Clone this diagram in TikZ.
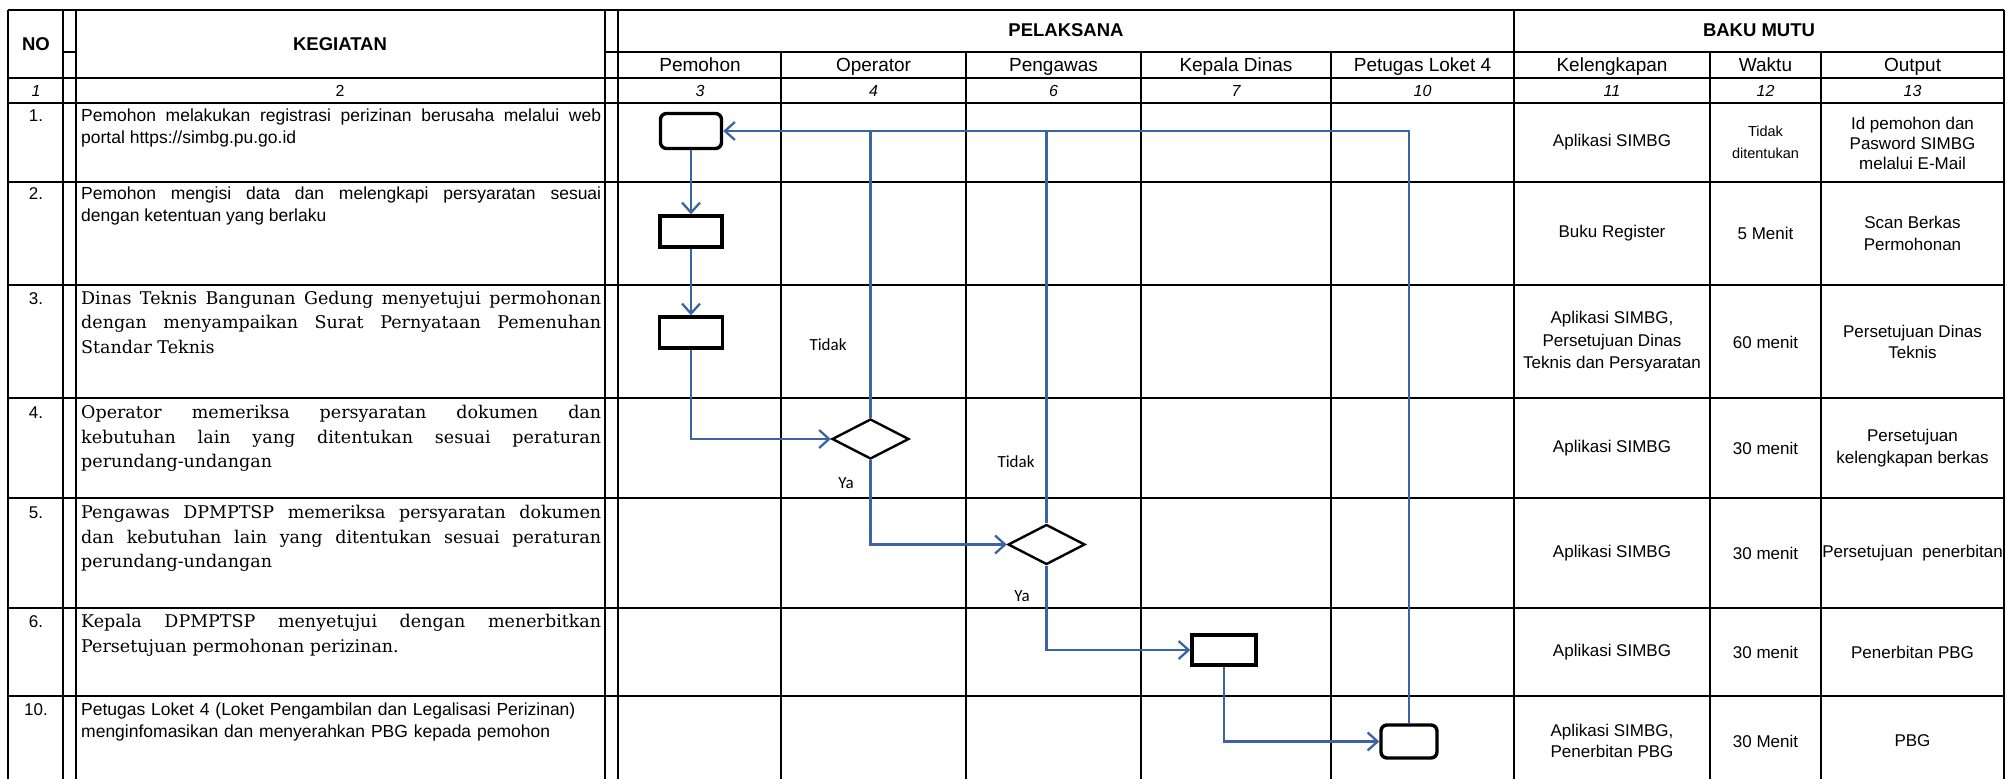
\documentclass[tikz,border=0pt]{standalone}
\usepackage{fontspec}
\setmainfont{Liberation Sans}
\newfontfamily\rowserif{DejaVu Serif}
\newfontfamily\flowlabel{Carlito}
\usetikzlibrary{arrows.meta,shapes.geometric}
\definecolor{flowblue}{RGB}{60,100,165}

\begin{document}
\begin{tikzpicture}[x=1pt,y=-1pt,
  grid/.style={line width=2.8pt},
  hdr/.style={font=\bfseries\fontsize{18.5}{22}\selectfont, anchor=base},
  colhead/.style={font=\fontsize{19}{22}\selectfont, anchor=base},
  idx/.style={font=\itshape\fontsize{16}{18}\selectfont, anchor=base},
  rowno/.style={font=\fontsize{17}{18}\selectfont, anchor=base},
  actext/.style={anchor=north west, inner sep=0pt, text width=520pt, align=justify},
  mutu/.style={align=center, inner sep=0pt, font=\fontsize{17}{21.5}\selectfont},
  actbox/.style={draw, line width=3.4pt, minimum width=62pt, minimum height=31pt, inner sep=0pt},
  endbox/.style={actbox, rounded corners=6pt},
  decide/.style={draw, diamond, line width=2.4pt, minimum width=77pt, minimum height=40pt, inner sep=0pt},
  flow/.style={draw=flowblue, line width=2.3pt, -{Straight Barb[length=10pt,width=18pt]}},
  flowline/.style={draw=flowblue, line width=2.3pt},
  lbl/.style={font=\flowlabel\fontsize{17}{18}\selectfont}]
\fill[white] (0,0) rectangle (2006,779);
\useasboundingbox (0,0) rectangle (2006,779);

% table grid
\draw[grid] (8,10) -- (2004,10);
\draw[grid] (605,52) -- (2004,52);
\draw[grid] (63,52) -- (76,52);
\foreach \y in {78,103,182,285,398,498,608,696}
  \draw[grid] (8,\y) -- (2004,\y);
\foreach \x in {8,63,76,605,618,1514,2004}
  \draw[grid] (\x,10) -- (\x,779);
\foreach \x in {781,966,1141,1331,1710,1821}
  \draw[grid] (\x,52) -- (\x,779);

% headers
\node[hdr] (hno) at (36,50) {NO};
\node[hdr] (hkeg) at (340,50) {KEGIATAN};
\node[hdr] (hpel) at (1066,36.5) {PELAKSANA};
\node[hdr] (hbaku) at (1759,36.5) {BAKU MUTU};
\node[colhead] (hpem) at (700,71.5) {Pemohon};
\node[colhead] (hopr) at (873.5,71.5) {Operator};
\node[colhead] (hpgw) at (1053.5,71.5) {Pengawas};
\node[colhead] (hkep) at (1236,71.5) {Kepala Dinas};
\node[colhead] (hlok) at (1422.5,71.5) {Petugas Loket 4};
\node[colhead] (hkel) at (1612,71.5) {Kelengkapan};
\node[colhead] (hwak) at (1765.5,71.5) {Waktu};
\node[colhead] (hout) at (1912.5,71.5) {Output};
\node[idx] (i1) at (36,96.5) {1};
\node[idx, font=\fontsize{16}{18}\selectfont] (i2) at (340,96.5) {2};
\node[idx] (i3) at (700,96.5) {3};
\node[idx] (i4) at (873.5,96.5) {4};
\node[idx] (i6) at (1053.5,96.5) {6};
\node[idx] (i7) at (1236,96.5) {7};
\node[idx] (i10) at (1422.5,96.5) {10};
\node[idx] (i11) at (1612,96.5) {11};
\node[idx] (i12) at (1765.5,96.5) {12};
\node[idx] (i13) at (1912.5,96.5) {13};

% kegiatan
\node[rowno] (n1) at (36,121) {1.};
\node[rowno] (n2) at (36,199) {2.};
\node[rowno] (n3) at (36,304) {3.};
\node[rowno] (n4) at (36,418) {4.};
\node[rowno] (n5) at (36,518) {5.};
\node[rowno] (n6) at (36,627) {6.};
\node[rowno] (n7) at (36,715) {10.};
\node[actext, font=\fontsize{17.5}{22}\selectfont] (k1) at (81,108.5)
  {Pemohon melakukan registrasi perizinan berusaha melalui web\linebreak portal https://simbg.pu.go.id};
\node[actext, font=\fontsize{17.5}{22}\selectfont] (k2) at (81,186.5)
  {Pemohon mengisi data dan melengkapi persyaratan sesuai\linebreak dengan ketentuan yang berlaku};
\node[actext, font=\rowserif\fontsize{17.5}{24.5}\selectfont] (k3) at (81,291)
  {Dinas Teknis Bangunan Gedung menyetujui permohonan\linebreak dengan menyampaikan Surat Pernyataan Pemenuhan\linebreak Standar Teknis};
\node[actext, font=\rowserif\fontsize{17.5}{24.5}\selectfont] (k4) at (81,405)
  {Operator memeriksa persyaratan dokumen dan\linebreak kebutuhan lain yang ditentukan sesuai peraturan\linebreak perundang-undangan};
\node[actext, font=\rowserif\fontsize{17.5}{24.5}\selectfont] (k5) at (81,505)
  {Pengawas DPMPTSP memeriksa persyaratan dokumen\linebreak dan kebutuhan lain yang ditentukan sesuai peraturan\linebreak perundang-undangan};
\node[actext, font=\rowserif\fontsize{17.5}{24.5}\selectfont] (k6) at (81,614)
  {Kepala DPMPTSP menyetujui dengan menerbitkan\linebreak Persetujuan permohonan perizinan.};
\node[actext, align=left, font=\fontsize{17.5}{22}\selectfont] (k7) at (81,702.5)
  {Petugas Loket 4 (Loket Pengambilan dan Legalisasi Perizinan)\\menginfomasikan dan menyerahkan PBG kepada pemohon};

% baku mutu
\node[mutu] (m11) at (1612,142.5) {Aplikasi SIMBG};
\node[mutu, font=\fontsize{14.5}{22}\selectfont] (m12) at (1765.5,142.5) {Tidak\\ditentukan};
\node[mutu, font=\fontsize{17}{20}\selectfont] (m13) at (1912.5,143) {Id pemohon dan\\Pasword SIMBG\\melalui E-Mail};
\node[mutu] (m21) at (1612,233.5) {Buku Register};
\node[mutu] (m22) at (1765.5,233.5) {5 Menit};
\node[mutu] (m23) at (1912.5,233.5) {Scan Berkas\\Permohonan};
\node[mutu, font=\fontsize{17}{22.5}\selectfont] (m31) at (1612,342) {Aplikasi SIMBG,\\Persetujuan Dinas\\Teknis dan Persyaratan};
\node[mutu] (m32) at (1765.5,342) {60 menit};
\node[mutu] (m33) at (1912.5,342) {Persetujuan Dinas\\Teknis};
\node[mutu] (m41) at (1612,448) {Aplikasi SIMBG};
\node[mutu] (m42) at (1765.5,448) {30 menit};
\node[mutu] (m43) at (1912.5,448) {Persetujuan\\kelengkapan berkas};
\node[mutu] (m51) at (1612,553) {Aplikasi SIMBG};
\node[mutu] (m52) at (1765.5,553) {30 menit};
\node[mutu] (m53) at (1912.5,553) {Persetujuan~ penerbitan};
\node[mutu] (m61) at (1612,652) {Aplikasi SIMBG};
\node[mutu] (m62) at (1765.5,652) {30 menit};
\node[mutu] (m63) at (1912.5,652) {Penerbitan PBG};
\node[mutu] (m71) at (1612,741) {Aplikasi SIMBG,\\Penerbitan PBG};
\node[mutu] (m72) at (1765.5,741) {30 Menit};
\node[mutu] (m73) at (1912.5,741) {PBG};

% flow
\node[endbox, minimum width=61pt, minimum height=35pt] (b1) at (691,131) {};
\node[actbox] (b2) at (691,231.5) {};
\node[actbox, minimum width=63pt] (b3) at (691,332.5) {};
\node[decide] (d1) at (870.5,439) {};
\node[decide] (d2) at (1046.5,544.5) {};
\node[actbox, minimum width=64pt, minimum height=30pt] (b4) at (1224,650) {};
\node[endbox, minimum width=56pt, minimum height=33pt] (b5) at (1409,741.5) {};
\node[lbl] (t1) at (828,345) {Tidak};
\node[lbl] (y1) at (846,483) {Ya};
\node[lbl] (t2) at (1016,462) {Tidak};
\node[lbl] (y2) at (1022,596) {Ya};

\draw[flow] (b1) -- (b2);
\draw[flow] (b2) -- (b3);
\draw[flow] (b3.south) |- (d1.west);
\draw[flow] (d1.south) |- (d2.west);
\draw[flow] (d2.south) |- (b4.west);
\draw[flow] (b4.south) |- (b5.west);
\draw[flow] (b5.north) |- (b1.east);
\draw[flowline] (d1.north) -- (d1.north |- b1.east);
\draw[flowline] (d2.north) -- (d2.north |- b1.east);
\end{tikzpicture}
\end{document}
